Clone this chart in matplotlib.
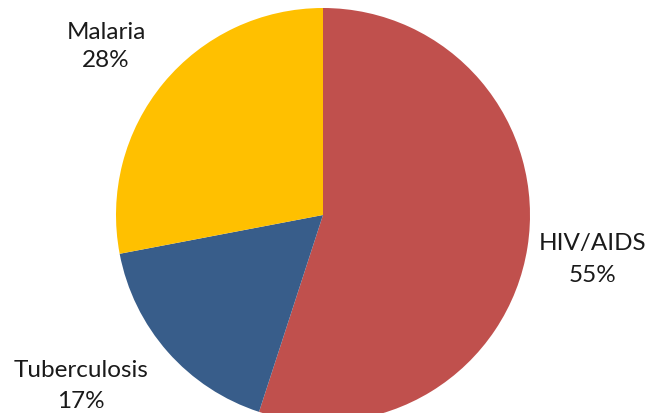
import matplotlib.pyplot as plt

# Data
labels = ['HIV/AIDS', 'Tuberculosis', 'Malaria']
shares = [55, 17, 28]
colors = ['#C0504D', '#385D8A', '#FFC000']

# label placement in pixels: (x centre, baseline of name, baseline of pct), y from top
label_pos = {
    'HIV/AIDS': (593, 250, 282),
    'Tuberculosis': (81, 377, 408),
    'Malaria': (106, 39, 67),
}

W, H = 646, 414
fig = plt.figure(figsize=(W / 100, H / 100), dpi=100)
ax = fig.add_axes([0, 0, 1, 1])

ax.pie(shares, colors=colors, startangle=90, counterclock=False,
       center=(323, H - 216), radius=207, frame=True,
       wedgeprops=dict(linewidth=0))
ax.set_xlim(0, W)
ax.set_ylim(0, H)
ax.set_aspect('equal')
ax.axis('off')

for name, val in zip(labels, shares):
    x, y1, y2 = label_pos[name]
    ax.text(x, H - y1, name, ha='center', va='baseline', fontsize=17.5,
            family='Lato', color='#1a1a1a')
    ax.text(x, H - y2, f'{val}%', ha='center', va='baseline', fontsize=17.5,
            family='Lato', color='#1a1a1a')

fig.savefig('out.png', dpi=100)
